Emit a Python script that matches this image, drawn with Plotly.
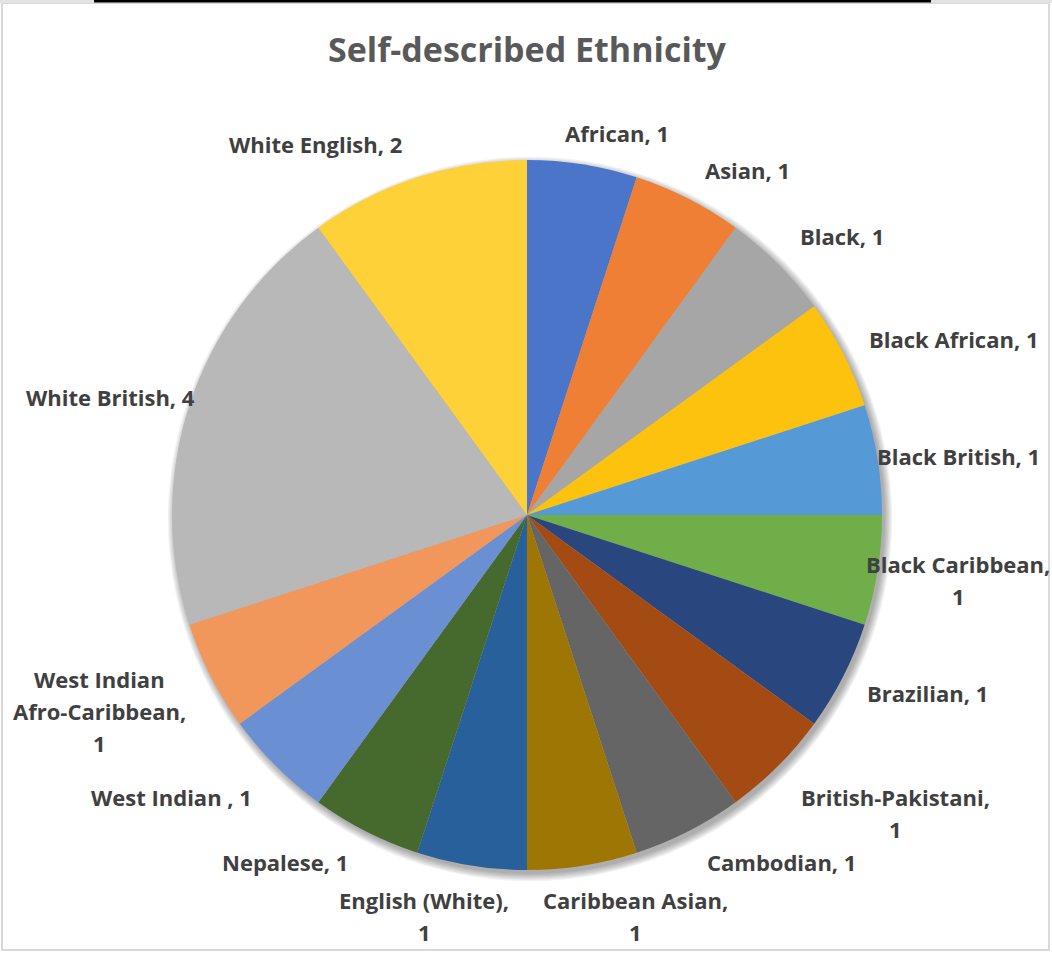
import textwrap
import plotly.graph_objects as go

# Survey responses: self-described ethnicity
categories = [
    "African", "Asian", "Black", "Black African", "Black British",
    "Black Caribbean", "Brazilian", "British-Pakistani", "Cambodian",
    "Caribbean Asian", "English (White)", "Nepalese", "West Indian ",
    "West Indian Afro-Caribbean", "White British", "White English",
]
counts = [1, 1, 1, 1, 1, 1, 1, 1, 1, 1, 1, 1, 1, 1, 4, 2]

slice_colors = [
    "#4a75c9", "#ef7f34", "#a6a6a6", "#fdc20e", "#5599d6",
    "#6fae48", "#2a467e", "#a34b12", "#656565", "#9e7603",
    "#27609a", "#46692e", "#6a8fd2", "#f2975b", "#b8b8b8", "#fdd137",
]

W, H = 1052, 953
CX, CY, R = 527, 515, 355  # pie centre and radius in pixels

# label block centres (pixels) and wrap widths (characters)
label_pos = {
    "African": (617, 133, 40),
    "Asian": (747, 170, 40),
    "Black": (842, 236, 40),
    "Black African": (953, 339, 40),
    "Black British": (958, 456, 40),
    "Black Caribbean": (958, 580, 16),
    "Brazilian": (927, 693, 40),
    "British-Pakistani": (895, 813, 18),
    "Cambodian": (781, 862, 40),
    "Caribbean Asian": (635, 916, 16),
    "English (White)": (424, 916, 16),
    "Nepalese": (285, 862, 40),
    "West Indian ": (171, 797, 40),
    "West Indian Afro-Caribbean": (99, 711, 15),
    "White British": (110, 397, 40),
    "White English": (315, 144, 40),
}
LINE_STEP = 32

px = lambda x: x / W
py = lambda y: 1 - y / H

fig = go.Figure()
fig.add_trace(go.Pie(
    labels=categories,
    values=counts,
    sort=False,
    direction="clockwise",
    rotation=0,
    textinfo="none",
    hoverinfo="label+value",
    marker=dict(colors=slice_colors, line=dict(width=0)),
    domain=dict(x=[px(CX - R), px(CX + R)], y=[py(CY + R), py(CY - R)]),
    showlegend=False,
))

annotations = []
for cat, val in zip(categories, counts):
    x, y, width = label_pos[cat]
    lines = textwrap.wrap(f"{cat}, {val}", width=width, break_on_hyphens=False)
    n = len(lines)
    for i, line in enumerate(lines):
        ly = y + (i - (n - 1) / 2) * LINE_STEP
        annotations.append(dict(
            x=px(x), y=py(ly), xref="paper", yref="paper",
            text=f"<b>{line}</b>", showarrow=False, xanchor="center", yanchor="middle",
            font=dict(family="Open Sans", size=22, color="#404040"),
        ))

annotations.append(dict(
    x=px(527), y=py(49), xref="paper", yref="paper",
    text="<b>Self-described Ethnicity</b>", showarrow=False,
    xanchor="center", yanchor="middle",
    font=dict(family="Open Sans", size=34, color="#595959"),
))

shapes = []
# soft drop shadow under the pie
for k in range(7):
    r = R + k * 1.2
    shapes.append(dict(
        type="circle", xref="paper", yref="paper", layer="below",
        x0=px(CX + 3 - r), x1=px(CX + 3 + r),
        y0=py(CY + 4 + r), y1=py(CY + 4 - r),
        fillcolor="rgba(0,0,0,0.05)", line=dict(width=0),
    ))
# page frame
shapes += [
    dict(type="rect", xref="paper", yref="paper", x0=px(2), x1=px(1049),
         y0=py(950), y1=py(3), line=dict(color="#d9d9d9", width=2),
         fillcolor="rgba(0,0,0,0)", layer="above"),
    dict(type="rect", xref="paper", yref="paper", x0=0, x1=1,
         y0=py(3), y1=1, line=dict(width=0), fillcolor="#e3e3e3", layer="above"),
    dict(type="line", xref="paper", yref="paper", x0=px(94), x1=px(931),
         y0=py(1), y1=py(1), line=dict(color="#000000", width=3), layer="above"),
]

fig.update_layout(
    width=W, height=H,
    margin=dict(l=0, r=0, t=0, b=0),
    paper_bgcolor="white",
    plot_bgcolor="white",
    annotations=annotations,
    shapes=shapes,
)

fig.write_html("out.html")
